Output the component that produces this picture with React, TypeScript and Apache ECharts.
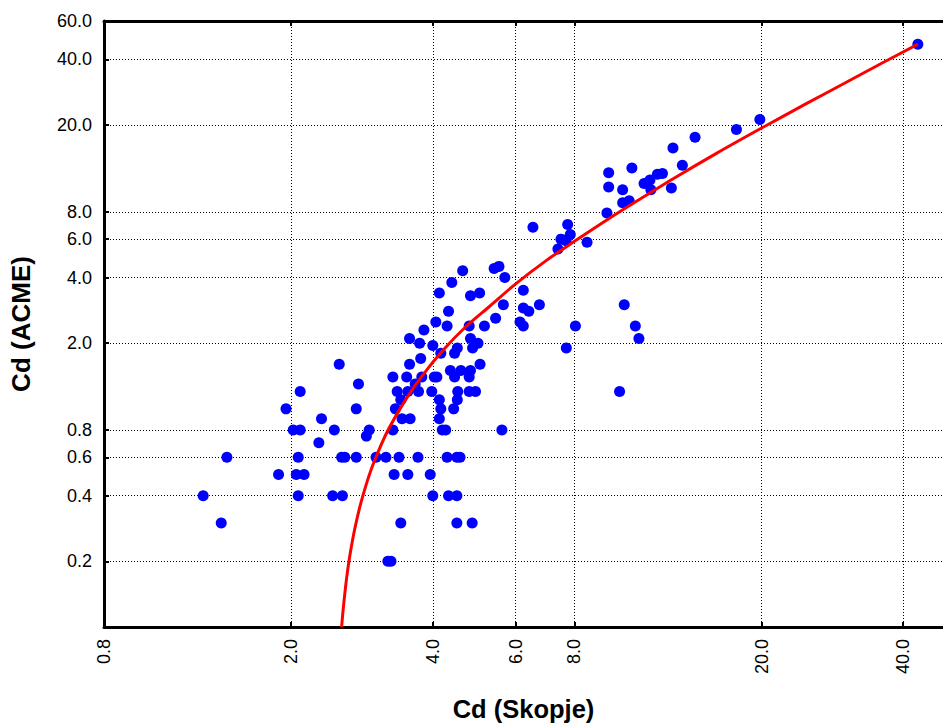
import React, { useEffect, useRef } from "react";
import * as echarts from "echarts";

// Axis ranges and tick labels (original units, plotted on log10 scale)
const X_RANGE = [0.8, 48.6];
const Y_RANGE = [0.1, 60];
const X_TICKS = [0.8, 2, 4, 6, 8, 20, 40];
const Y_TICKS = [0.2, 0.4, 0.6, 0.8, 2, 4, 6, 8, 20, 40, 60];

// Scatter: Cd (Skopje) vs Cd (ACME)
const CD_SKOPJE = [
  1.30, 1.42, 1.46, 1.88, 1.95, 2.02, 2.09, 2.07, 2.05, 2.13,
  2.07, 2.09, 2.29, 2.32, 2.45, 2.47, 2.53, 2.56, 2.60, 2.57,
  2.75, 2.75, 2.78, 2.89, 2.93, 3.03, 3.18, 3.21, 3.26, 3.29,
  3.29, 3.31, 3.33, 3.36, 3.39, 3.42, 3.42, 3.44, 3.52, 3.54,
  3.54, 3.57, 3.57, 3.58, 3.67, 3.72, 3.73, 3.75, 3.77, 3.79,
  3.83, 3.95, 3.98, 4.00, 4.00, 4.03, 4.06, 4.08, 4.13, 4.13,
  4.13, 4.16, 4.16, 4.19, 4.26, 4.29, 4.29, 4.32, 4.32, 4.36,
  4.39, 4.43, 4.45, 4.45, 4.50, 4.50, 4.50, 4.51, 4.51, 4.52,
  4.57, 4.59, 4.63, 4.78, 4.78, 4.78, 4.81, 4.81, 4.81, 4.85,
  4.86, 4.93, 4.99, 5.03, 5.04, 5.15, 5.40, 5.44, 5.53, 5.61,
  5.65, 5.69, 6.13, 6.23, 6.23, 6.23, 6.40, 6.53, 6.74, 7.38,
  7.49, 7.68, 7.69, 7.74, 7.84, 8.04, 8.51, 9.38, 9.46, 9.46,
  9.98, 10.13, 10.13, 10.21, 10.46, 10.60, 10.78, 10.97, 11.25, 11.58,
  11.63, 12.01, 12.31, 12.86, 12.96, 13.57, 14.44, 17.68, 19.83, 42.97,
];
const CD_ACME = [
  0.4, 0.3, 0.6, 0.5, 1.0, 0.8, 0.8, 0.6, 0.5, 0.5,
  0.4, 1.2, 0.7, 0.9, 0.4, 0.8, 1.6, 0.6, 0.6, 0.4,
  1.0, 0.6, 1.3, 0.75, 0.8, 0.6, 0.6, 0.2, 0.2, 1.4,
  0.8, 0.5, 1.0, 1.2, 0.6, 1.1, 0.3, 0.9, 1.4, 1.2,
  0.5, 2.1, 1.6, 0.9, 1.3, 0.6, 1.2, 2.0, 1.7, 1.4,
  2.3, 0.5, 1.2, 1.95, 0.4, 1.4, 2.5, 1.4, 3.4, 1.1,
  0.9, 1.8, 1.0, 0.8, 0.8, 2.4, 0.6, 2.8, 0.4, 1.5,
  3.8, 1.0, 1.8, 1.4, 0.3, 0.6, 0.4, 1.9, 1.1, 1.2,
  0.6, 1.5, 4.3, 2.4, 1.4, 1.2, 3.3, 2.1, 1.5, 0.3,
  1.9, 1.2, 2.0, 3.4, 1.6, 2.4, 4.4, 2.6, 4.5, 0.8,
  3.0, 4.0, 2.5, 3.5, 2.9, 2.4, 2.8, 6.8, 3.0, 5.4,
  6.0, 5.9, 1.9, 7.0, 6.3, 2.4, 5.8, 7.9, 12.1, 10.4,
  1.2, 10.1, 8.8, 3.0, 9.0, 12.7, 2.4, 2.1, 10.8, 11.2,
  10.1, 11.9, 12.0, 10.3, 15.7, 13.1, 17.6, 19.1, 21.2, 46.9,
];

// Fitted curve, points
const CURVE_X = [2.56, 2.58, 2.62, 2.66, 2.72, 2.8, 2.9, 3.0, 3.2, 3.5, 3.8, 4.2, 4.7, 5.3, 6.0, 7.0, 8.0, 9.5, 11, 13, 16, 20, 25, 30, 36, 43];
const CURVE_Y = [0.1, 0.121, 0.164, 0.207, 0.271, 0.357, 0.464, 0.571, 0.785, 1.1, 1.42, 1.85, 2.38, 2.97, 3.74, 4.82, 5.86, 7.48, 9.12, 11.38, 14.8, 19.38, 25.2, 31.1, 38.4, 47.0];

const FONT = "'Liberation Sans', Arial, Helvetica, sans-serif";
const lg = (v: number) => Math.log10(v);
const fmt = (v: number) => Math.pow(10, v).toFixed(1);

export default function App() {
  const ref = useRef<HTMLDivElement>(null);
  useEffect(() => {
    if (!ref.current) return;
    const chart = echarts.init(ref.current, undefined, { renderer: "svg" });
    const xTickVals = X_TICKS.map(lg);
    const yTickVals = Y_TICKS.map(lg);
    const gridLine = { show: true, lineStyle: { color: "#000", width: 1, type: [1, 2] as any } };
    chart.setOption({
      animation: false,
      backgroundColor: "#fff",
      grid: { left: 101, right: 0, top: 21, bottom: 98, containLabel: false },
      xAxis: [
        {
          type: "value",
          min: lg(X_RANGE[0]),
          max: lg(X_RANGE[1]),
          position: "bottom",
          name: "Cd (Skopje)",
          nameLocation: "middle",
          nameGap: 69,
          nameTextStyle: { fontFamily: FONT, fontSize: 25.5, fontWeight: "bold", color: "#000" },
          axisLine: { show: true, onZero: false, lineStyle: { color: "#000", width: 3 } },
          axisTick: { show: true, inside: true, length: 5, lineStyle: { color: "#000", width: 2 }, customValues: xTickVals },
          axisLabel: {
            show: true,
            rotate: 90,
            margin: 12,
            fontFamily: FONT,
            fontSize: 18,
            color: "#000",
            customValues: xTickVals,
            formatter: fmt,
            showMinLabel: true,
            showMaxLabel: true,
          },
          splitLine: gridLine,
        },
        {
          type: "value",
          min: lg(X_RANGE[0]),
          max: lg(X_RANGE[1]),
          position: "top",
          axisLine: { show: true, onZero: false, lineStyle: { color: "#000", width: 3 } },
          axisTick: { show: true, inside: true, length: 5, lineStyle: { color: "#000", width: 2 }, customValues: xTickVals },
          axisLabel: { show: false },
          splitLine: { show: false },
        },
      ],
      yAxis: {
        type: "value",
        min: lg(Y_RANGE[0]),
        max: lg(Y_RANGE[1]),
        name: "Cd (ACME)",
        nameLocation: "middle",
        nameGap: 70,
        nameRotate: 90,
        nameTextStyle: { fontFamily: FONT, fontSize: 26, fontWeight: "bold", color: "#000" },
        axisLine: { show: true, onZero: false, lineStyle: { color: "#000", width: 3 } },
        axisTick: { show: true, inside: true, length: 5, lineStyle: { color: "#000", width: 2 }, customValues: yTickVals },
        axisLabel: {
          show: true,
          margin: 12,
          fontFamily: FONT,
          fontSize: 18,
          color: "#000",
          customValues: yTickVals,
          formatter: fmt,
          showMinLabel: true,
          showMaxLabel: true,
        },
        splitLine: gridLine,
      },
      series: [
        {
          type: "scatter",
          xAxisIndex: 0,
          symbol: "circle",
          symbolSize: 11,
          itemStyle: { color: "#0000FF", opacity: 1 },
          data: CD_SKOPJE.map((x, i) => [lg(x), lg(CD_ACME[i])]),
          z: 2,
        },
        {
          type: "line",
          xAxisIndex: 0,
          smooth: 0.3,
          showSymbol: false,
          symbol: "none",
          lineStyle: { color: "#FF0000", width: 3 },
          data: CURVE_X.map((x, i) => [lg(x), lg(CURVE_Y[i])]),
          z: 3,
        },
      ],
    });
    return () => chart.dispose();
  }, []);
  return (
    <div
      ref={ref}
      style={{ position: "fixed", left: 0, top: 0, width: 943, height: 727, background: "#fff" }}
    />
  );
}
